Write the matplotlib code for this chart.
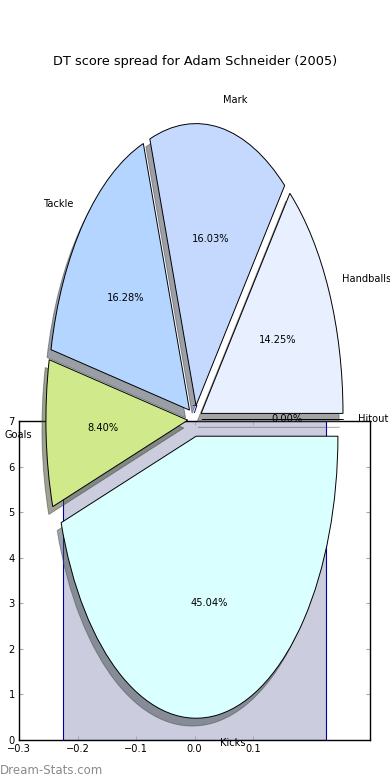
import matplotlib
matplotlib.use('Agg')
import matplotlib.pyplot as plt

# pie data, in drawing order starting from 0 degrees
labels = ['Handballs', 'Mark', 'Tackle', 'Goals', 'Kicks', 'Hitout']
values = [14.25, 16.03, 16.28, 8.40, 45.04, 0.00]
colors = ['#e8f0ff', '#c5d9ff', '#b4d5ff', '#d0e98b', '#d9ffff', '#f0f0f0']
explode = [0.05, 0.05, 0.05, 0.05, 0.06, 0.05]

# the bar underneath
bar_x = [0.0]
bar_h = [7]
xticks = [-0.3, -0.2, -0.1, 0.0, 0.1]
yticks = [0, 1, 2, 3, 4, 5, 6, 7]

W, H = 390.0, 780.0
fig = plt.figure(figsize=(3.9, 7.8), dpi=100)

# bar axes (behind the pie)
ax2 = fig.add_axes([19/W, 40/H, 351/W, 319/H], zorder=1)
ax2.bar(bar_x, bar_h, width=0.45, color='#ccccdf', edgecolor='#0000aa', linewidth=0.8)
ax2.annotate(str(bar_h[0]), (bar_x[0], bar_h[0]), xytext=(0, 4), textcoords='offset points',
             ha='center', va='bottom', color='#000088', fontsize=7)
ax2.set_xlim(-0.3, 0.3)
ax2.set_ylim(0, 7)
ax2.set_xticks(xticks)
ax2.set_yticks(yticks)
ax2.tick_params(direction='in', length=3, color='#aaaaaa', top=True, right=True,
                labelsize=7.1, pad=3)
for s in ax2.spines.values():
    s.set_linewidth(1.0)

# pie axes on top, whole figure, transparent
ax = fig.add_axes([0, 0, 1, 1], zorder=2)
ax.pie(values, labels=labels, colors=colors, explode=explode, autopct='%.2f%%',
       shadow=True, startangle=0, labeldistance=1.1, pctdistance=0.6,
       wedgeprops={'edgecolor': 'black', 'linewidth': 0.7},
       textprops={'fontsize': 7.1})
ax.set_aspect('auto')
cx, cy, rx, ry = 194.8, H - 419.5, 141.8, 282.0
ax.set_xlim(-cx/rx, (W - cx)/rx)
ax.set_ylim(-cy/ry, (H - cy)/ry)
ax.set_frame_on(False)
ax.set_xticks([])
ax.set_yticks([])

fig.text(0.5, 1 - 61/H, 'DT score spread for Adam Schneider (2005)', ha='center', va='center',
         fontsize=9.3)
fig.text(0, 1 - 770/H, 'Dream-Stats.com', ha='left', va='center', fontsize=8.5, color='#8a8a8a')

fig.savefig('out.png', dpi=100)
